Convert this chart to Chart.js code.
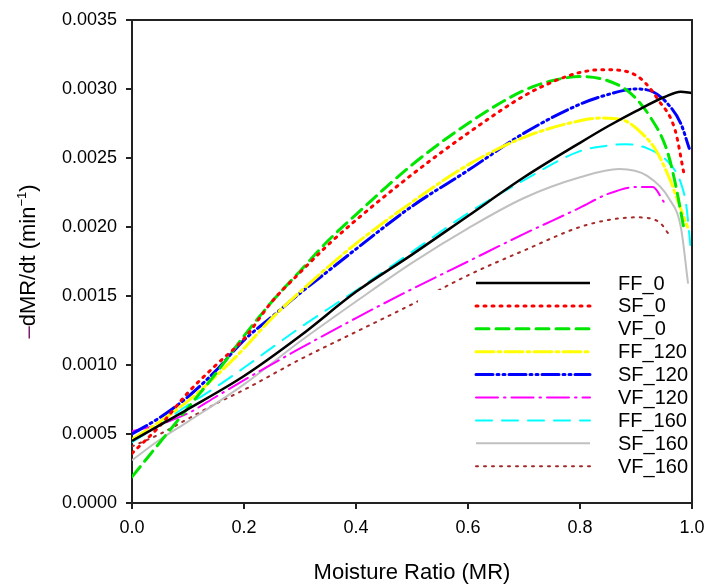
<!DOCTYPE html>
<html>
<head>
<meta charset="utf-8">
<script src="https://cdn.jsdelivr.net/npm/chart.js@4"></script>
<style>
  html, body { margin: 0; padding: 0; background: #fff; }
  #wrap { width: 706px; height: 585px; }
</style>
</head>
<body>
<div id="wrap"><canvas id="rateChart" width="706" height="585"></canvas></div>
<script>
// Drying rate curves, -dMR/dt against moisture ratio
var seriesNames = ['FF_0', 'SF_0', 'VF_0', 'FF_120', 'SF_120', 'VF_120', 'FF_160', 'SF_160', 'VF_160'];

var ff0MR = [0, 0.1, 0.2, 0.3, 0.4, 0.5, 0.6, 0.7, 0.8, 0.85, 0.9, 0.95, 0.98, 1.0];
var ff0Rate = [0.00045, 0.00068, 0.00092, 0.00121, 0.00153, 0.00180, 0.00208, 0.00236, 0.00261, 0.00273, 0.00284, 0.00294, 0.00298, 0.00297];

var sf0MR = [0, 0.05, 0.1, 0.15, 0.2, 0.25, 0.3, 0.35, 0.4, 0.5, 0.6, 0.7, 0.75, 0.8, 0.84, 0.88, 0.91, 0.94, 0.97, 0.985];
var sf0Rate = [0.00036, 0.00056, 0.00080, 0.00100, 0.00119, 0.00146, 0.00167, 0.00187, 0.00205, 0.00238, 0.00268, 0.00295, 0.00305, 0.00312, 0.00314, 0.00313, 0.00307, 0.00292, 0.00270, 0.00240];

var vf0MR = [0, 0.05, 0.1, 0.15, 0.2, 0.25, 0.3, 0.35, 0.4, 0.5, 0.6, 0.7, 0.75, 0.8, 0.85, 0.89, 0.925, 0.955, 0.97, 0.985];
var vf0Rate = [0.00019, 0.00044, 0.00069, 0.00094, 0.00121, 0.00146, 0.00168, 0.00190, 0.00209, 0.00245, 0.00275, 0.00299, 0.00306, 0.00309, 0.00306, 0.00297, 0.00280, 0.00256, 0.00232, 0.00200];

var ff120MR = [0, 0.05, 0.1, 0.15, 0.2, 0.25, 0.3, 0.35, 0.4, 0.5, 0.6, 0.7, 0.8, 0.84, 0.88, 0.91, 0.935, 0.96, 0.98, 0.992];
var ff120Rate = [0.00046, 0.00059, 0.00074, 0.00092, 0.00112, 0.00134, 0.00153, 0.00171, 0.00188, 0.00218, 0.00245, 0.00265, 0.00277, 0.00279, 0.00277, 0.00268, 0.00256, 0.00235, 0.00213, 0.00200];

var sf120MR = [0, 0.05, 0.1, 0.15, 0.2, 0.25, 0.3, 0.35, 0.4, 0.5, 0.6, 0.7, 0.8, 0.85, 0.9, 0.93, 0.955, 0.98, 0.995];
var sf120Rate = [0.00050, 0.00062, 0.00077, 0.00096, 0.00118, 0.00135, 0.00152, 0.00168, 0.00184, 0.00215, 0.00241, 0.00268, 0.00289, 0.00296, 0.00300, 0.00298, 0.00290, 0.00275, 0.00257];

var vf120MR = [0, 0.05, 0.1, 0.15, 0.2, 0.3, 0.4, 0.5, 0.6, 0.7, 0.8, 0.85, 0.9, 0.93, 0.95];
var vf120Rate = [0.00052, 0.00057, 0.00065, 0.00077, 0.00089, 0.00112, 0.00134, 0.00155, 0.00175, 0.00195, 0.00214, 0.00224, 0.00229, 0.00229, 0.00218];

var ff160MR = [0, 0.05, 0.1, 0.15, 0.2, 0.3, 0.4, 0.5, 0.6, 0.7, 0.8, 0.85, 0.88, 0.92, 0.96, 0.98, 0.99, 0.997];
var ff160Rate = [0.00044, 0.00057, 0.00071, 0.00084, 0.00098, 0.00127, 0.00154, 0.00182, 0.00210, 0.00234, 0.00255, 0.00259, 0.00260, 0.00257, 0.00246, 0.00232, 0.00215, 0.00187];

var sf160MR = [0, 0.05, 0.1, 0.2, 0.3, 0.4, 0.5, 0.6, 0.7, 0.8, 0.87, 0.92, 0.96, 0.98, 0.993];
var sf160Rate = [0.00031, 0.00046, 0.00059, 0.00086, 0.00117, 0.00146, 0.00174, 0.00199, 0.00221, 0.00236, 0.00242, 0.00237, 0.00220, 0.00200, 0.00159];

var vf160MR = [0, 0.05, 0.1, 0.15, 0.2, 0.3, 0.4, 0.5, 0.6, 0.7, 0.8, 0.85, 0.9, 0.94, 0.96];
var vf160Rate = [0.00041, 0.00050, 0.00061, 0.00072, 0.00082, 0.00104, 0.00124, 0.00144, 0.00165, 0.00183, 0.00200, 0.00205, 0.00207, 0.00204, 0.00194];

// Tick values on both axes
var xTickValues = [0, 0.2, 0.4, 0.6, 0.8, 1.0];
var yTickValues = [0, 0.0005, 0.0010, 0.0015, 0.0020, 0.0025, 0.0030, 0.0035];

var FONT = "'Liberation Sans', Arial, sans-serif";

// pair an x array with a y array into points
function toPoints(xs, ys) {
  return xs.map(function(x, i) {
    return { x: x, y: ys[i] };
  });
}

// line styles for every series, same order as seriesNames
var lineStyles = [
  { color: '#000000', width: 2.5, dash: [] },
  { color: '#ff0000', width: 3, dash: [2, 6] },
  { color: '#00e600', width: 3, dash: [13, 7] },
  { color: '#ffff00', width: 3, dash: [18, 4, 3, 4] },
  { color: '#0000ff', width: 3, dash: [17, 4, 2, 4, 2, 4] },
  { color: '#ff00ff', width: 2, dash: [22, 6, 1.5, 6] },
  { color: '#00ffff', width: 2, dash: [16, 10] },
  { color: '#c0c0c0', width: 2, dash: [] },
  { color: '#a52a2a', width: 2, dash: [2, 6] }
];

var seriesData = [
  toPoints(ff0MR, ff0Rate),
  toPoints(sf0MR, sf0Rate),
  toPoints(vf0MR, vf0Rate),
  toPoints(ff120MR, ff120Rate),
  toPoints(sf120MR, sf120Rate),
  toPoints(vf120MR, vf120Rate),
  toPoints(ff160MR, ff160Rate),
  toPoints(sf160MR, sf160Rate),
  toPoints(vf160MR, vf160Rate)
];

var datasets = seriesNames.map(function(name, i) {
  var st = lineStyles[i];
  return {
    label: name,
    data: seriesData[i],
    borderColor: st.color,
    backgroundColor: st.color,
    borderWidth: st.width,
    borderDash: st.dash,
    borderCapStyle: st.dash.length ? 'round' : 'butt',
    pointRadius: 0,
    fill: false,
    cubicInterpolationMode: 'monotone'
  };
});

// box round the plot (top and right sides) plus the inset legend
var framePlugin = {
  id: 'frame',
  afterDatasetsDraw: function(chart) {
    var ctx = chart.ctx;
    var a = chart.chartArea;

    // legend sits on a white patch that hides the curves under it
    ctx.save();
    ctx.fillStyle = '#ffffff';
    ctx.fillRect(418, 290, 686 - 418, a.bottom - 295);

    var rowY = 283;
    chart.data.datasets.forEach(function(ds) {
      ctx.beginPath();
      ctx.strokeStyle = ds.borderColor;
      ctx.lineWidth = ds.borderWidth;
      ctx.setLineDash(ds.borderDash);
      ctx.lineCap = ds.borderCapStyle;
      ctx.moveTo(476, rowY);
      ctx.lineTo(590, rowY);
      ctx.stroke();

      ctx.setLineDash([]);
      ctx.fillStyle = '#000';
      ctx.font = '20px ' + FONT;
      ctx.textBaseline = 'middle';
      ctx.textAlign = 'left';
      ctx.fillText(ds.label, 618, rowY + 1);
      rowY += 22.9;
    });

    // top and right border
    ctx.beginPath();
    ctx.strokeStyle = '#222';
    ctx.lineWidth = 2;
    ctx.lineCap = 'butt';
    ctx.moveTo(a.left, a.top);
    ctx.lineTo(a.right, a.top);
    ctx.lineTo(a.right, a.bottom);
    ctx.stroke();
    ctx.restore();
  },
  afterDraw: function(chart) {
    // y axis title with a superscript
    var ctx = chart.ctx;
    var a = chart.chartArea;
    ctx.save();
    ctx.translate(35, (a.top + a.bottom) / 2);
    ctx.rotate(-Math.PI / 2);
    ctx.textBaseline = 'alphabetic';
    ctx.textAlign = 'left';

    var big = '22px ' + FONT;
    var small = '13px ' + FONT;
    var parts = [
      { t: '\u2013', f: big, c: '#7a1f6e', dy: 0 },
      { t: 'dMR/dt (min', f: big, c: '#000', dy: 0 },
      { t: '\u22121', f: small, c: '#000', dy: -9 },
      { t: ')', f: big, c: '#000', dy: 0 }
    ];
    var total = 0;
    parts.forEach(function(p) {
      ctx.font = p.f;
      total += ctx.measureText(p.t).width;
    });
    var x = -total / 2;
    parts.forEach(function(p) {
      ctx.font = p.f;
      ctx.fillStyle = p.c;
      ctx.fillText(p.t, x, p.dy);
      x += ctx.measureText(p.t).width;
    });
    ctx.restore();
  }
};

var ctx = document.getElementById('rateChart').getContext('2d');
var rateChart = new Chart(ctx, {
  type: 'line',
  data: { datasets: datasets },
  options: {
    responsive: false,
    animation: false,
    layout: { padding: { top: 20, right: 14, left: 0, bottom: 0 } },
    plugins: {
      legend: { display: false },
      tooltip: { enabled: false }
    },
    scales: {
      x: {
        type: 'linear',
        min: 0,
        max: 1,
        afterFit: function(scale) {
          scale.height = 82;
          // let the last label hang past the plot edge
          scale.paddingLeft = 0;
          scale.paddingRight = 0;
        },
        afterBuildTicks: function(scale) {
          scale.ticks = xTickValues.map(function(v) { return { value: v }; });
        },
        ticks: {
          color: '#000',
          padding: 8,
          maxRotation: 0,
          font: { family: FONT, size: 18 },
          callback: function(v) { return Number(v).toFixed(1); }
        },
        grid: { drawOnChartArea: false, drawTicks: true, tickLength: 6, color: '#222', lineWidth: 2 },
        border: { display: true, color: '#222', width: 2 },
        title: {
          display: true,
          text: 'Moisture Ratio (MR)',
          color: '#000',
          font: { family: FONT, size: 22, lineHeight: 1 },
          padding: { top: 0, bottom: 1 }
        }
      },
      y: {
        type: 'linear',
        min: 0,
        max: 0.0035,
        afterFit: function(scale) {
          scale.width = 132;
          scale.paddingTop = 0;
          scale.paddingBottom = 0;
        },
        afterBuildTicks: function(scale) {
          scale.ticks = yTickValues.map(function(v) { return { value: v }; });
        },
        ticks: {
          color: '#000',
          padding: 9,
          font: { family: FONT, size: 18 },
          callback: function(v) { return Number(v).toFixed(4); }
        },
        grid: { drawOnChartArea: false, drawTicks: true, tickLength: 6, color: '#222', lineWidth: 2 },
        border: { display: true, color: '#222', width: 2 }
      }
    }
  },
  plugins: [framePlugin]
});
</script>
</body>
</html>
